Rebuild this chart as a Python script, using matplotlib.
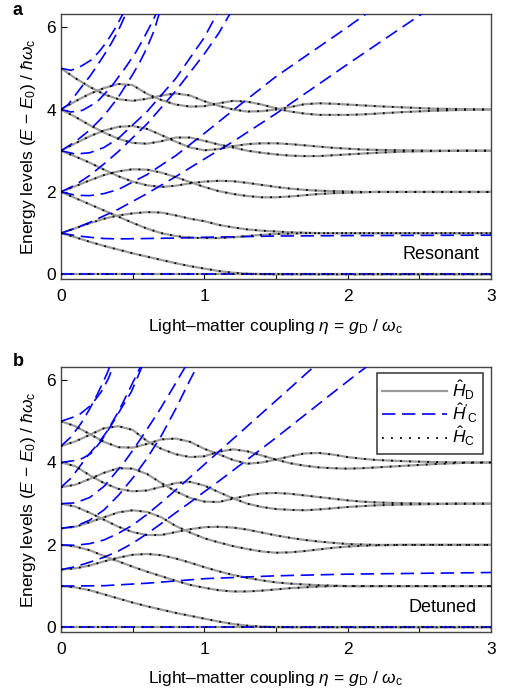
import matplotlib
matplotlib.use("Agg")
import matplotlib.pyplot as plt
from matplotlib.lines import Line2D

plt.rcParams['font.family'] = ['Liberation Sans', 'DejaVu Sans']
plt.rcParams['mathtext.fontset'] = 'custom'
plt.rcParams['mathtext.rm'] = 'Liberation Sans'
plt.rcParams['mathtext.it'] = 'Liberation Sans:italic'
plt.rcParams['mathtext.bf'] = 'Liberation Sans:bold'

# coupling grid used for the H_D / H_C levels
eta = [0, 0.1, 0.2, 0.3, 0.4, 0.5, 0.6, 0.7, 0.8, 0.9, 1.0, 1.1, 1.2, 1.3,
       1.4, 1.5, 1.6, 1.7, 1.8, 1.9, 2.0, 2.1, 2.2, 2.4, 2.6, 2.8, 3.0]

ground_x = [0, 3]
ground_y = [0, 0]

# ---- panel a: resonant, H_D = H_C levels ----
a_lvl1 = [1.0, .9, .79, .69, .6, .51, .43, .35, .27, .2, .14, .08, .04, .015, .005, 0, 0, 0, 0, 0, 0, 0, 0, 0, 0, 0, 0]
a_lvl2 = [1.0, 1.12, 1.24, 1.35, 1.43, 1.48, 1.51, 1.5, 1.43, 1.35, 1.29, 1.2, 1.14, 1.09, 1.06, 1.04, 1.02, 1.01, 1.0, 1.0, 1.0, 1.0, 1.0, 1.0, 1.0, 1.0, 1.0]
a_lvl3 = [2.0, 1.85, 1.7, 1.55, 1.4, 1.25, 1.11, 1.0, .93, .89, .88, .88, .9, .93, .96, .98, .99, 1.0, 1.0, 1.0, 1.0, 1.0, 1.0, 1.0, 1.0, 1.0, 1.0]
a_lvl4 = [2.0, 2.14, 2.28, 2.41, 2.5, 2.55, 2.54, 2.47, 2.36, 2.24, 2.12, 2.02, 1.95, 1.9, 1.87, 1.87, 1.89, 1.92, 1.95, 1.97, 1.98, 1.99, 2.0, 2.0, 2.0, 2.0, 2.0]
a_lvl5 = [3.0, 2.86, 2.71, 2.54, 2.38, 2.25, 2.16, 2.12, 2.15, 2.21, 2.25, 2.27, 2.26, 2.22, 2.17, 2.12, 2.08, 2.05, 2.03, 2.02, 2.01, 2.0, 2.0, 2.0, 2.0, 2.0, 2.0]
a_lvl6 = [3.0, 3.18, 3.35, 3.49, 3.58, 3.6, 3.53, 3.38, 3.22, 3.08, 3.01, 3.04, 3.11, 3.16, 3.18, 3.18, 3.16, 3.13, 3.1, 3.07, 3.05, 3.03, 3.02, 3.01, 3.0, 3.0, 3.0]
a_lvl7 = [4.0, 3.82, 3.62, 3.44, 3.29, 3.19, 3.17, 3.23, 3.32, 3.32, 3.24, 3.15, 3.08, 3.0, 2.95, 2.91, 2.88, 2.87, 2.87, 2.89, 2.91, 2.93, 2.95, 2.98, 2.99, 3.0, 3.0]
a_lvl8 = [4.0, 4.2, 4.38, 4.52, 4.62, 4.59, 4.38, 4.23, 4.12, 4.07, 4.08, 4.15, 4.21, 4.19, 4.12, 4.03, 3.95, 3.9, 3.87, 3.87, 3.87, 3.88, 3.9, 3.94, 3.97, 3.99, 4.0]
a_lvl9 = [5.0, 4.76, 4.55, 4.37, 4.25, 4.21, 4.26, 4.34, 4.39, 4.34, 4.2, 4.09, 4.0, 3.95, 3.96, 4.0, 4.06, 4.13, 4.15, 4.14, 4.12, 4.1, 4.08, 4.05, 4.02, 4.01, 4.0]

# ---- panel a: truncated Coulomb gauge H_C' levels ----
a_c1_x = [0, 0.1, 0.2, 0.3, 0.4, 0.6, 0.8, 1.0, 1.5, 2.0, 3.0]
a_c1_y = [1, 0.94, 0.9, 0.87, 0.86, 0.87, 0.88, 0.9, 0.93, 0.94, 0.95]
a_c2_x = [0, .1, .2, .3, .4, .6, .8, 1.0, 1.2, 1.5, 2.0, 2.5, 2.6]
a_c2_y = [1, 1.12, 1.26, 1.42, 1.58, 1.96, 2.37, 2.8, 3.22, 3.9, 5.1, 6.28, 6.52]
a_c3_x = [0, .1, .2, .3, .4, .6, .8, 1.0, 1.2, 1.5, 2.0, 2.2]
a_c3_y = [2, 1.92, 1.91, 1.96, 2.06, 2.42, 2.88, 3.42, 3.98, 4.8, 6.0, 6.5]
a_c4_x = [0, .1, .2, .3, .4, .6, .8, 1.0, 1.1, 1.2]
a_c4_y = [2, 2.17, 2.4, 2.68, 2.98, 3.65, 4.45, 5.35, 5.85, 6.45]
a_c5_x = [0, .1, .2, .3, .4, .6, .8, 1.0, 1.1]
a_c5_y = [3, 2.92, 2.95, 3.08, 3.3, 3.95, 4.75, 5.75, 6.4]
a_c6_x = [0, .1, .2, .3, .4, .5, .55, .6, .65, .7]
a_c6_y = [3, 3.22, 3.5, 3.85, 4.3, 4.85, 5.15, 5.5, 5.92, 6.5]
a_c7_x = [0, .07, .15, .25, .35, .45, .52, .58, .64, .68]
a_c7_y = [4, 3.94, 3.98, 4.18, 4.55, 5.02, 5.38, 5.75, 6.15, 6.45]
a_c8_x = [0, .05, .1, .15, .2, .25, .3, .35, .4, .45, .48]
a_c8_y = [4, 4.12, 4.35, 4.58, 4.8, 5.05, 5.32, 5.6, 5.92, 6.3, 6.5]
a_c9_x = [0, .07, .14, .21, .27, .32, .38, .43, .46]
a_c9_y = [5, 4.95, 5.05, 5.2, 5.42, 5.65, 5.98, 6.31, 6.5]

# ---- panel b: detuned, H_D = H_C levels ----
b_lvl1 = [1.0, .97, .9, .8, .7, .6, .51, .43, .35, .28, .21, .14, .08, .04, .015, .005, 0, 0, 0, 0, 0, 0, 0, 0, 0, 0, 0]
b_lvl2 = [1.4, 1.43, 1.5, 1.6, 1.69, 1.76, 1.78, 1.75, 1.67, 1.57, 1.46, 1.36, 1.27, 1.2, 1.14, 1.09, 1.06, 1.04, 1.02, 1.01, 1.0, 1.0, 1.0, 1.0, 1.0, 1.0, 1.0]
b_lvl3 = [2.0, 1.96, 1.87, 1.73, 1.6, 1.47, 1.35, 1.24, 1.13, 1.03, .96, .9, .87, .87, .89, .92, .95, .97, .99, 1.0, 1.0, 1.0, 1.0, 1.0, 1.0, 1.0, 1.0]
b_lvl4 = [2.4, 2.44, 2.55, 2.67, 2.79, 2.84, 2.8, 2.67, 2.46, 2.3, 2.16, 2.06, 1.97, 1.9, 1.84, 1.81, 1.82, 1.85, 1.89, 1.93, 1.96, 1.98, 1.99, 2.0, 2.0, 2.0, 2.0]
b_lvl5 = [3.0, 2.93, 2.78, 2.61, 2.44, 2.31, 2.24, 2.24, 2.31, 2.38, 2.43, 2.44, 2.42, 2.37, 2.3, 2.23, 2.17, 2.12, 2.08, 2.05, 2.02, 2.01, 2.0, 2.0, 2.0, 2.0, 2.0]
b_lvl6 = [3.4, 3.46, 3.6, 3.75, 3.86, 3.85, 3.72, 3.5, 3.3, 3.14, 3.05, 3.04, 3.12, 3.2, 3.25, 3.26, 3.24, 3.2, 3.16, 3.12, 3.08, 3.05, 3.03, 3.01, 3.0, 3.0, 3.0]
b_lvl7 = [4.0, 3.91, 3.69, 3.5, 3.36, 3.3, 3.32, 3.41, 3.5, 3.53, 3.44, 3.28, 3.13, 3.0, 2.92, 2.87, 2.85, 2.84, 2.86, 2.89, 2.92, 2.94, 2.96, 2.98, 2.99, 3.0, 3.0]
b_lvl8 = [4.4, 4.51, 4.67, 4.83, 4.88, 4.79, 4.52, 4.33, 4.2, 4.13, 4.15, 4.26, 4.32, 4.27, 4.17, 4.07, 3.98, 3.92, 3.88, 3.86, 3.85, 3.86, 3.88, 3.92, 3.96, 3.99, 4.0]
b_lvl9 = [5.0, 4.88, 4.69, 4.5, 4.37, 4.36, 4.45, 4.56, 4.58, 4.5, 4.33, 4.2, 4.06, 3.97, 4.0, 4.07, 4.15, 4.22, 4.23, 4.19, 4.13, 4.09, 4.06, 4.03, 4.01, 4.0, 4.0]

# ---- panel b: H_C' levels ----
b_c1_x = [0, 0.3, 0.6, 1.0, 1.5, 2.0, 2.5, 3.0]
b_c1_y = [1.0, 1.01, 1.07, 1.18, 1.25, 1.29, 1.31, 1.33]
b_c2_x = [0, .1, .2, .3, .4, .5, .6, .7, .8, .9, 1.0, 1.11, 1.3, 1.5, 1.7, 1.9, 2.04, 2.2]
b_c2_y = [1.4, 1.47, 1.58, 1.7, 1.85, 2.04, 2.27, 2.52, 2.78, 3.03, 3.29, 3.57, 4.07, 4.6, 5.15, 5.7, 6.08, 6.5]
b_c3_x = [0, .1, .2, .3, .4, .5, .6, .7, .8, .9, 1.0, 1.2, 1.4, 1.6, 1.75, 1.85]
b_c3_y = [2, 1.99, 2.03, 2.12, 2.28, 2.48, 2.74, 3.03, 3.33, 3.64, 3.95, 4.57, 5.19, 5.81, 6.28, 6.6]
b_c4_x = [0, .1, .2, .3, .4, .5, .6, .7, .8, .9, .96]
b_c4_y = [2.4, 2.45, 2.6, 2.85, 3.2, 3.62, 4.1, 4.65, 5.3, 6.0, 6.4]
b_c5_x = [0, .1, .2, .3, .44, .51, .58, .68, .75, .86, .9]
b_c5_y = [3, 3.02, 3.15, 3.42, 4.0, 4.34, 4.7, 5.23, 5.63, 6.28, 6.5]
b_c6_x = [0, .07, .13, .19, .25, .32, .4, .47, .55, .58]
b_c6_y = [3.4, 3.62, 3.9, 4.18, 4.42, 4.75, 5.23, 5.72, 6.29, 6.5]
b_c7_x = [0, .1, .15, .21, .28, .35, .42, .49, .55, .58]
b_c7_y = [4, 4.05, 4.1, 4.22, 4.52, 4.9, 5.31, 5.71, 6.2, 6.45]
b_c8_x = [0, .07, .14, .2, .26, .32, .36]
b_c8_y = [4.4, 4.62, 4.95, 5.3, 5.7, 6.15, 6.5]
b_c9_x = [0, .12, .21, .28, .33, .36, .38]
b_c9_y = [5, 5.14, 5.39, 5.71, 6.03, 6.3, 6.5]

GRAY = '#9a9a9a'
BLUE = '#0000ff'
FS = 12.5


def draw(ax, levels, coul):
    for y in levels:
        ax.plot(eta, y, color=GRAY, lw=1.6, solid_capstyle='butt', zorder=2)
    ax.plot(ground_x, ground_y, color=GRAY, lw=1.6, zorder=2)
    for cx, cy in coul:
        ax.plot(cx, cy, color=BLUE, lw=1.2, dashes=(8, 4), zorder=3)
    ax.plot(ground_x, ground_y, color=BLUE, lw=1.2, dashes=(8, 4), zorder=3)
    for y in levels:
        ax.plot(eta, y, color='black', lw=1.3, linestyle=(0, (1, 4)), zorder=4)
    ax.plot(ground_x, ground_y, color='black', lw=1.3, linestyle=(0, (1, 4)), zorder=4)

    ax.set_xlim(0, 3)
    ax.set_ylim(-0.12, 6.31)
    ax.set_xticks([0, 1, 2, 3])
    ax.set_xticks([0.5, 1.5, 2.5], minor=True)
    ax.set_yticks([0, 2, 4, 6])
    ax.tick_params(direction='in', length=4, width=0.8, labelsize=FS, top=False, right=False)
    ax.tick_params(axis='x', pad=7)
    ax.tick_params(which='minor', direction='in', length=4, width=0.8)
    for s in ax.spines.values():
        s.set_color('#444444')
        s.set_linewidth(1.0)
    ax.set_xlabel(r'Light–matter coupling $\eta$ = $g_\mathrm{D}$ / $\omega_\mathrm{c}$',
                  fontsize=FS, labelpad=9)
    ax.set_ylabel(r'Energy levels ($E$ − $E_0$) / $\hbar\omega_\mathrm{c}$', fontsize=FS, labelpad=6)


fig = plt.figure(figsize=(5.06, 6.91), dpi=100)
ax_a = fig.add_axes([0.1206, 0.5958, 0.8498, 0.3835])
ax_b = fig.add_axes([0.1206, 0.0850, 0.8498, 0.3835])

draw(ax_a, [a_lvl1, a_lvl2, a_lvl3, a_lvl4, a_lvl5, a_lvl6, a_lvl7, a_lvl8, a_lvl9],
     [(a_c1_x, a_c1_y), (a_c2_x, a_c2_y), (a_c3_x, a_c3_y), (a_c4_x, a_c4_y), (a_c5_x, a_c5_y),
      (a_c6_x, a_c6_y), (a_c7_x, a_c7_y), (a_c8_x, a_c8_y), (a_c9_x, a_c9_y)])
draw(ax_b, [b_lvl1, b_lvl2, b_lvl3, b_lvl4, b_lvl5, b_lvl6, b_lvl7, b_lvl8, b_lvl9],
     [(b_c1_x, b_c1_y), (b_c2_x, b_c2_y), (b_c3_x, b_c3_y), (b_c4_x, b_c4_y), (b_c5_x, b_c5_y),
      (b_c6_x, b_c6_y), (b_c7_x, b_c7_y), (b_c8_x, b_c8_y), (b_c9_x, b_c9_y)])

ax_a.text(2.65, 0.49, 'Resonant', fontsize=FS + 0.5, ha='center', va='center')
ax_b.text(2.66, 0.49, 'Detuned', fontsize=FS + 0.5, ha='center', va='center')

handles = [Line2D([], [], color=GRAY, lw=1.6),
           Line2D([], [], color=BLUE, lw=1.2, dashes=(8, 4)),
           Line2D([], [], color='black', lw=1.3, linestyle=(0, (1, 4)))]
labels = [r'$\hat{H}_\mathrm{D}$', r"$\hat{H}'_\mathrm{C}$", r'$\hat{H}_\mathrm{C}$']
leg = ax_b.legend(handles, labels, loc='upper right', bbox_to_anchor=(0.981, 0.978),
                  borderaxespad=0, fontsize=12.5, handlelength=3.7, handletextpad=0.3,
                  fancybox=False, framealpha=1, edgecolor='#333333',
                  labelspacing=0.0, borderpad=0.3)
leg.get_frame().set_linewidth(1.1)

fig.text(13 / 506, 1 - 2 / 691, 'a', fontsize=13, fontweight='bold', va='top', ha='left')
fig.text(13 / 506, 1 - 353 / 691, 'b', fontsize=13, fontweight='bold', va='top', ha='left')

fig.savefig('out.png', dpi=100)
